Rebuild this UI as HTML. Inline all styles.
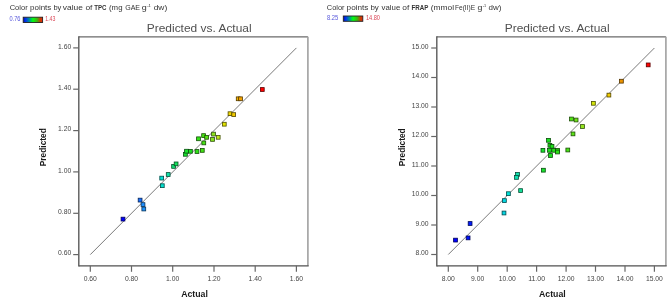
<!DOCTYPE html>
<html><head><meta charset="utf-8"><title>Predicted vs. Actual</title>
<style>
html,body{margin:0;padding:0;background:#fff;width:668px;height:301px;overflow:hidden}
svg{display:block;will-change:transform}
text{font-family:"Liberation Sans", sans-serif}
.hd{font-size:7.4px;fill:#333}
.cl{font-size:6.6px}
.ti{font-size:11.5px;fill:#505050}
.tk{font-size:7.6px;fill:#444}
.ax{font-size:8.2px;font-weight:bold;fill:#1a1a1a}
</style></head>
<body>
<svg width="668" height="301" viewBox="0 0 668 301">
<defs>
<linearGradient id="cb" x1="0" x2="1" y1="0" y2="0">
<stop offset="0" stop-color="#0010b0"/>
<stop offset="0.12" stop-color="#0030f0"/>
<stop offset="0.3" stop-color="#008c9c"/>
<stop offset="0.5" stop-color="#00ff10"/>
<stop offset="0.72" stop-color="#40b010"/>
<stop offset="0.9" stop-color="#d03800"/>
<stop offset="1" stop-color="#f02010"/>
</linearGradient>
</defs>
<text x="9.7" y="9.7" class="hd" textLength="18.0" lengthAdjust="spacingAndGlyphs">Color</text>
<text x="30.1" y="9.7" class="hd" textLength="21.2" lengthAdjust="spacingAndGlyphs">points</text>
<text x="53.4" y="9.7" class="hd" textLength="7.9" lengthAdjust="spacingAndGlyphs">by</text>
<text x="62.8" y="9.7" class="hd" textLength="20.1" lengthAdjust="spacingAndGlyphs">value</text>
<text x="85.4" y="9.7" class="hd" textLength="7.0" lengthAdjust="spacingAndGlyphs">of</text>
<text x="94.2" y="9.7" class="hd" font-weight="bold" textLength="12.2" lengthAdjust="spacingAndGlyphs">TPC</text>
<text x="109.0" y="9.7" class="hd" textLength="13.5" lengthAdjust="spacingAndGlyphs">(mg</text>
<text x="125.2" y="9.7" class="hd" textLength="14.8" lengthAdjust="spacingAndGlyphs">GAE</text>
<text x="141.8" y="9.7" class="hd" textLength="5.0" lengthAdjust="spacingAndGlyphs">g</text>
<text x="147.2" y="6.9" class="hd" style="font-size:3.8px" textLength="3.7" lengthAdjust="spacingAndGlyphs">-1</text>
<text x="153.7" y="9.7" class="hd" textLength="13.5" lengthAdjust="spacingAndGlyphs">dw)</text>
<text x="326.8" y="9.6" class="hd" textLength="17.8" lengthAdjust="spacingAndGlyphs">Color</text>
<text x="346.6" y="9.6" class="hd" textLength="21.8" lengthAdjust="spacingAndGlyphs">points</text>
<text x="370.4" y="9.6" class="hd" textLength="8.4" lengthAdjust="spacingAndGlyphs">by</text>
<text x="381.6" y="9.6" class="hd" textLength="18.7" lengthAdjust="spacingAndGlyphs">value</text>
<text x="402.3" y="9.6" class="hd" textLength="7.0" lengthAdjust="spacingAndGlyphs">of</text>
<text x="411.6" y="9.6" class="hd" font-weight="bold" textLength="16.8" lengthAdjust="spacingAndGlyphs">FRAP</text>
<text x="430.8" y="9.6" class="hd" textLength="23.2" lengthAdjust="spacingAndGlyphs">(mmol</text>
<text x="455.0" y="9.6" class="hd" textLength="20.1" lengthAdjust="spacingAndGlyphs">Fe(II)E</text>
<text x="477.4" y="9.6" class="hd" textLength="4.9" lengthAdjust="spacingAndGlyphs">g</text>
<text x="482.8" y="6.8" class="hd" style="font-size:3.8px" textLength="3.4" lengthAdjust="spacingAndGlyphs">-1</text>
<text x="488.5" y="9.6" class="hd" textLength="12.9" lengthAdjust="spacingAndGlyphs">dw)</text>
<text x="9.5" y="20.9" class="cl" fill="#5858dc" textLength="11" lengthAdjust="spacingAndGlyphs">0.76</text>
<rect x="23.2" y="17.2" width="19.4" height="5.3" fill="url(#cb)" stroke="#222" stroke-width="0.9"/>
<text x="45.3" y="20.9" class="cl" fill="#dc4858" textLength="10.1" lengthAdjust="spacingAndGlyphs">1.43</text>
<text x="327" y="19.8" class="cl" fill="#5858dc" textLength="11.3" lengthAdjust="spacingAndGlyphs">8.25</text>
<rect x="343.3" y="16.0" width="19.5" height="5.3" fill="url(#cb)" stroke="#222" stroke-width="0.9"/>
<text x="365.9" y="19.8" class="cl" fill="#dc4858" textLength="14.1" lengthAdjust="spacingAndGlyphs">14.80</text>
<text x="146.8" y="31.8" class="ti" textLength="104.8" lengthAdjust="spacingAndGlyphs">Predicted vs. Actual</text>
<text x="504.7" y="31.8" class="ti" textLength="104.9" lengthAdjust="spacingAndGlyphs">Predicted vs. Actual</text>
<line x1="90.3" y1="254.6" x2="296.4" y2="47.9" stroke="#7a7a7a" stroke-width="1.0"/>
<line x1="78.8" y1="36.8" x2="307.9" y2="36.8" stroke="#6a6a6a" stroke-width="1.3"/>
<line x1="307.9" y1="36.8" x2="307.9" y2="265.8" stroke="#a0a0a0" stroke-width="1.6"/>
<line x1="78.8" y1="265.8" x2="308.7" y2="265.8" stroke="#505050" stroke-width="1.2"/>
<line x1="78.8" y1="36.199999999999996" x2="78.8" y2="266.5" stroke="#5a5a5a" stroke-width="1.4"/>
<line x1="73.2" y1="254.6" x2="78.8" y2="254.6" stroke="#666" stroke-width="1.2"/>
<text x="71.2" y="255.2" class="tk" text-anchor="end" textLength="13.2" lengthAdjust="spacingAndGlyphs">0.60</text>
<line x1="90.3" y1="265.8" x2="90.3" y2="271.8" stroke="#666" stroke-width="1.2"/>
<text x="90.3" y="280.6" class="tk" text-anchor="middle" textLength="13.2" lengthAdjust="spacingAndGlyphs">0.60</text>
<line x1="73.2" y1="213.3" x2="78.8" y2="213.3" stroke="#666" stroke-width="1.2"/>
<text x="71.2" y="213.9" class="tk" text-anchor="end" textLength="13.2" lengthAdjust="spacingAndGlyphs">0.80</text>
<line x1="131.5" y1="265.8" x2="131.5" y2="271.8" stroke="#666" stroke-width="1.2"/>
<text x="131.5" y="280.6" class="tk" text-anchor="middle" textLength="13.2" lengthAdjust="spacingAndGlyphs">0.80</text>
<line x1="73.2" y1="171.9" x2="78.8" y2="171.9" stroke="#666" stroke-width="1.2"/>
<text x="71.2" y="172.5" class="tk" text-anchor="end" textLength="13.2" lengthAdjust="spacingAndGlyphs">1.00</text>
<line x1="172.7" y1="265.8" x2="172.7" y2="271.8" stroke="#666" stroke-width="1.2"/>
<text x="172.7" y="280.6" class="tk" text-anchor="middle" textLength="13.2" lengthAdjust="spacingAndGlyphs">1.00</text>
<line x1="73.2" y1="130.6" x2="78.8" y2="130.6" stroke="#666" stroke-width="1.2"/>
<text x="71.2" y="131.2" class="tk" text-anchor="end" textLength="13.2" lengthAdjust="spacingAndGlyphs">1.20</text>
<line x1="214.0" y1="265.8" x2="214.0" y2="271.8" stroke="#666" stroke-width="1.2"/>
<text x="214.0" y="280.6" class="tk" text-anchor="middle" textLength="13.2" lengthAdjust="spacingAndGlyphs">1.20</text>
<line x1="73.2" y1="89.2" x2="78.8" y2="89.2" stroke="#666" stroke-width="1.2"/>
<text x="71.2" y="89.8" class="tk" text-anchor="end" textLength="13.2" lengthAdjust="spacingAndGlyphs">1.40</text>
<line x1="255.2" y1="265.8" x2="255.2" y2="271.8" stroke="#666" stroke-width="1.2"/>
<text x="255.2" y="280.6" class="tk" text-anchor="middle" textLength="13.2" lengthAdjust="spacingAndGlyphs">1.40</text>
<line x1="73.2" y1="47.9" x2="78.8" y2="47.9" stroke="#666" stroke-width="1.2"/>
<text x="71.2" y="48.5" class="tk" text-anchor="end" textLength="13.2" lengthAdjust="spacingAndGlyphs">1.60</text>
<line x1="296.4" y1="265.8" x2="296.4" y2="271.8" stroke="#666" stroke-width="1.2"/>
<text x="296.4" y="280.6" class="tk" text-anchor="middle" textLength="13.2" lengthAdjust="spacingAndGlyphs">1.60</text>
<rect x="121.1" y="217.2" width="3.8" height="3.8" fill="#0000ff" stroke="#000059" stroke-width="0.8"/>
<rect x="138.2" y="198.2" width="3.8" height="3.8" fill="#166dfe" stroke="#072658" stroke-width="0.8"/>
<rect x="141.1" y="202.7" width="3.8" height="3.8" fill="#1d8efe" stroke="#0a3158" stroke-width="0.8"/>
<rect x="141.9" y="207.1" width="3.8" height="3.8" fill="#1c92fd" stroke="#093358" stroke-width="0.8"/>
<rect x="159.8" y="176.2" width="3.8" height="3.8" fill="#03e1d4" stroke="#014e4a" stroke-width="0.8"/>
<rect x="160.4" y="183.8" width="3.8" height="3.8" fill="#04e0cf" stroke="#014e48" stroke-width="0.8"/>
<rect x="166.3" y="172.6" width="3.8" height="3.8" fill="#12dea5" stroke="#064d39" stroke-width="0.8"/>
<rect x="171.7" y="164.5" width="3.8" height="3.8" fill="#14df74" stroke="#074e28" stroke-width="0.8"/>
<rect x="174.2" y="162.0" width="3.8" height="3.8" fill="#14e05c" stroke="#074e20" stroke-width="0.8"/>
<rect x="183.5" y="152.4" width="3.8" height="3.8" fill="#19e130" stroke="#084e10" stroke-width="0.8"/>
<rect x="184.6" y="149.3" width="3.8" height="3.8" fill="#1ae12c" stroke="#094e0f" stroke-width="0.8"/>
<rect x="188.5" y="149.4" width="3.8" height="3.8" fill="#1de11f" stroke="#0a4e0a" stroke-width="0.8"/>
<rect x="195.1" y="149.6" width="3.8" height="3.8" fill="#2fe117" stroke="#104e08" stroke-width="0.8"/>
<rect x="200.4" y="148.5" width="3.8" height="3.8" fill="#42e115" stroke="#174e07" stroke-width="0.8"/>
<rect x="196.6" y="136.9" width="3.8" height="3.8" fill="#34e117" stroke="#124e08" stroke-width="0.8"/>
<rect x="201.7" y="133.7" width="3.8" height="3.8" fill="#47e115" stroke="#184e07" stroke-width="0.8"/>
<rect x="204.7" y="135.4" width="3.8" height="3.8" fill="#54e115" stroke="#1d4e07" stroke-width="0.8"/>
<rect x="201.9" y="141.0" width="3.8" height="3.8" fill="#48e115" stroke="#194e07" stroke-width="0.8"/>
<rect x="211.6" y="132.2" width="3.8" height="3.8" fill="#8ee41d" stroke="#314f0a" stroke-width="0.8"/>
<rect x="210.6" y="137.5" width="3.8" height="3.8" fill="#86e31c" stroke="#2e4f09" stroke-width="0.8"/>
<rect x="216.3" y="135.4" width="3.8" height="3.8" fill="#bfe819" stroke="#425108" stroke-width="0.8"/>
<rect x="222.4" y="122.3" width="3.8" height="3.8" fill="#e1e300" stroke="#4e4f00" stroke-width="0.8"/>
<rect x="228.1" y="111.8" width="3.8" height="3.8" fill="#eed600" stroke="#534a00" stroke-width="0.8"/>
<rect x="231.8" y="112.7" width="3.8" height="3.8" fill="#f1c900" stroke="#544600" stroke-width="0.8"/>
<rect x="236.3" y="96.9" width="3.8" height="3.8" fill="#f1b000" stroke="#543d00" stroke-width="0.8"/>
<rect x="238.6" y="96.9" width="3.8" height="3.8" fill="#f0a100" stroke="#543800" stroke-width="0.8"/>
<rect x="260.4" y="87.6" width="3.8" height="3.8" fill="#ff0000" stroke="#590000" stroke-width="0.8"/>
<text x="194.5" y="296.6" class="ax" text-anchor="middle" textLength="26.7" lengthAdjust="spacingAndGlyphs">Actual</text>
<text transform="translate(46.3,147.2) rotate(-90)" x="0" y="0" class="ax" text-anchor="middle" textLength="38" lengthAdjust="spacingAndGlyphs">Predicted</text>
<line x1="448.3" y1="254.5" x2="654.4" y2="48.0" stroke="#7a7a7a" stroke-width="1.0"/>
<line x1="436.8" y1="36.8" x2="665.9" y2="36.8" stroke="#6a6a6a" stroke-width="1.3"/>
<line x1="665.9" y1="36.8" x2="665.9" y2="265.8" stroke="#a0a0a0" stroke-width="1.6"/>
<line x1="436.8" y1="265.8" x2="666.6999999999999" y2="265.8" stroke="#505050" stroke-width="1.2"/>
<line x1="436.8" y1="36.199999999999996" x2="436.8" y2="266.5" stroke="#5a5a5a" stroke-width="1.4"/>
<line x1="431.2" y1="254.5" x2="436.8" y2="254.5" stroke="#666" stroke-width="1.2"/>
<text x="428.6" y="255.1" class="tk" text-anchor="end" textLength="13.2" lengthAdjust="spacingAndGlyphs">8.00</text>
<line x1="448.3" y1="265.8" x2="448.3" y2="271.8" stroke="#666" stroke-width="1.2"/>
<text x="448.3" y="280.6" class="tk" text-anchor="middle" textLength="13.2" lengthAdjust="spacingAndGlyphs">8.00</text>
<line x1="431.2" y1="225.0" x2="436.8" y2="225.0" stroke="#666" stroke-width="1.2"/>
<text x="428.6" y="225.6" class="tk" text-anchor="end" textLength="13.2" lengthAdjust="spacingAndGlyphs">9.00</text>
<line x1="477.7" y1="265.8" x2="477.7" y2="271.8" stroke="#666" stroke-width="1.2"/>
<text x="477.7" y="280.6" class="tk" text-anchor="middle" textLength="13.2" lengthAdjust="spacingAndGlyphs">9.00</text>
<line x1="431.2" y1="195.5" x2="436.8" y2="195.5" stroke="#666" stroke-width="1.2"/>
<text x="428.6" y="196.1" class="tk" text-anchor="end" textLength="16.9" lengthAdjust="spacingAndGlyphs">10.00</text>
<line x1="507.2" y1="265.8" x2="507.2" y2="271.8" stroke="#666" stroke-width="1.2"/>
<text x="507.2" y="280.6" class="tk" text-anchor="middle" textLength="16.9" lengthAdjust="spacingAndGlyphs">10.00</text>
<line x1="431.2" y1="166.0" x2="436.8" y2="166.0" stroke="#666" stroke-width="1.2"/>
<text x="428.6" y="166.6" class="tk" text-anchor="end" textLength="16.9" lengthAdjust="spacingAndGlyphs">11.00</text>
<line x1="536.6" y1="265.8" x2="536.6" y2="271.8" stroke="#666" stroke-width="1.2"/>
<text x="536.6" y="280.6" class="tk" text-anchor="middle" textLength="16.9" lengthAdjust="spacingAndGlyphs">11.00</text>
<line x1="431.2" y1="136.5" x2="436.8" y2="136.5" stroke="#666" stroke-width="1.2"/>
<text x="428.6" y="137.1" class="tk" text-anchor="end" textLength="16.9" lengthAdjust="spacingAndGlyphs">12.00</text>
<line x1="566.1" y1="265.8" x2="566.1" y2="271.8" stroke="#666" stroke-width="1.2"/>
<text x="566.1" y="280.6" class="tk" text-anchor="middle" textLength="16.9" lengthAdjust="spacingAndGlyphs">12.00</text>
<line x1="431.2" y1="107.0" x2="436.8" y2="107.0" stroke="#666" stroke-width="1.2"/>
<text x="428.6" y="107.6" class="tk" text-anchor="end" textLength="16.9" lengthAdjust="spacingAndGlyphs">13.00</text>
<line x1="595.5" y1="265.8" x2="595.5" y2="271.8" stroke="#666" stroke-width="1.2"/>
<text x="595.5" y="280.6" class="tk" text-anchor="middle" textLength="16.9" lengthAdjust="spacingAndGlyphs">13.00</text>
<line x1="431.2" y1="77.5" x2="436.8" y2="77.5" stroke="#666" stroke-width="1.2"/>
<text x="428.6" y="78.1" class="tk" text-anchor="end" textLength="16.9" lengthAdjust="spacingAndGlyphs">14.00</text>
<line x1="625.0" y1="265.8" x2="625.0" y2="271.8" stroke="#666" stroke-width="1.2"/>
<text x="625.0" y="280.6" class="tk" text-anchor="middle" textLength="16.9" lengthAdjust="spacingAndGlyphs">14.00</text>
<line x1="431.2" y1="48.0" x2="436.8" y2="48.0" stroke="#666" stroke-width="1.2"/>
<text x="428.6" y="48.6" class="tk" text-anchor="end" textLength="16.9" lengthAdjust="spacingAndGlyphs">15.00</text>
<line x1="654.4" y1="265.8" x2="654.4" y2="271.8" stroke="#666" stroke-width="1.2"/>
<text x="654.4" y="280.6" class="tk" text-anchor="middle" textLength="16.9" lengthAdjust="spacingAndGlyphs">15.00</text>
<rect x="453.6" y="238.2" width="3.8" height="3.8" fill="#0000ff" stroke="#000059" stroke-width="0.8"/>
<rect x="466.2" y="236.0" width="3.8" height="3.8" fill="#0012fa" stroke="#000657" stroke-width="0.8"/>
<rect x="468.2" y="221.6" width="3.8" height="3.8" fill="#021cfa" stroke="#000957" stroke-width="0.8"/>
<rect x="502.1" y="211.1" width="3.8" height="3.8" fill="#04d4e1" stroke="#014a4e" stroke-width="0.8"/>
<rect x="502.5" y="198.7" width="3.8" height="3.8" fill="#04d6e1" stroke="#014a4e" stroke-width="0.8"/>
<rect x="506.5" y="191.8" width="3.8" height="3.8" fill="#01e1d9" stroke="#004e4b" stroke-width="0.8"/>
<rect x="518.7" y="188.7" width="3.8" height="3.8" fill="#14de97" stroke="#074d34" stroke-width="0.8"/>
<rect x="515.6" y="172.5" width="3.8" height="3.8" fill="#11dea9" stroke="#054d3b" stroke-width="0.8"/>
<rect x="514.6" y="175.5" width="3.8" height="3.8" fill="#0fdfaf" stroke="#054e3d" stroke-width="0.8"/>
<rect x="541.5" y="168.3" width="3.8" height="3.8" fill="#19e12d" stroke="#084e0f" stroke-width="0.8"/>
<rect x="541.0" y="148.4" width="3.8" height="3.8" fill="#19e12e" stroke="#084e10" stroke-width="0.8"/>
<rect x="546.6" y="138.4" width="3.8" height="3.8" fill="#1ce121" stroke="#094e0b" stroke-width="0.8"/>
<rect x="548.0" y="143.4" width="3.8" height="3.8" fill="#1de11e" stroke="#0a4e0a" stroke-width="0.8"/>
<rect x="550.1" y="144.4" width="3.8" height="3.8" fill="#1ee119" stroke="#0a4e08" stroke-width="0.8"/>
<rect x="547.5" y="148.4" width="3.8" height="3.8" fill="#1de11f" stroke="#0a4e0a" stroke-width="0.8"/>
<rect x="551.8" y="148.4" width="3.8" height="3.8" fill="#22e119" stroke="#0b4e08" stroke-width="0.8"/>
<rect x="555.6" y="148.5" width="3.8" height="3.8" fill="#2ce118" stroke="#0f4e08" stroke-width="0.8"/>
<rect x="555.6" y="150.1" width="3.8" height="3.8" fill="#2ce118" stroke="#0f4e08" stroke-width="0.8"/>
<rect x="548.6" y="153.6" width="3.8" height="3.8" fill="#1de11d" stroke="#0a4e0a" stroke-width="0.8"/>
<rect x="565.9" y="148.1" width="3.8" height="3.8" fill="#47e115" stroke="#184e07" stroke-width="0.8"/>
<rect x="569.6" y="117.1" width="3.8" height="3.8" fill="#51e114" stroke="#1c4e07" stroke-width="0.8"/>
<rect x="574.2" y="118.1" width="3.8" height="3.8" fill="#6de218" stroke="#264f08" stroke-width="0.8"/>
<rect x="580.6" y="124.6" width="3.8" height="3.8" fill="#93e41e" stroke="#334f0a" stroke-width="0.8"/>
<rect x="571.1" y="132.0" width="3.8" height="3.8" fill="#5ae115" stroke="#1f4e07" stroke-width="0.8"/>
<rect x="591.5" y="101.4" width="3.8" height="3.8" fill="#d5e60a" stroke="#4a5003" stroke-width="0.8"/>
<rect x="607.0" y="93.2" width="3.8" height="3.8" fill="#f1cc00" stroke="#544700" stroke-width="0.8"/>
<rect x="619.5" y="79.3" width="3.8" height="3.8" fill="#eb9300" stroke="#523300" stroke-width="0.8"/>
<rect x="646.3" y="63.0" width="3.8" height="3.8" fill="#fe0200" stroke="#580000" stroke-width="0.8"/>
<text x="552.4" y="296.6" class="ax" text-anchor="middle" textLength="26.7" lengthAdjust="spacingAndGlyphs">Actual</text>
<text transform="translate(404.5,147.3) rotate(-90)" x="0" y="0" class="ax" text-anchor="middle" textLength="38" lengthAdjust="spacingAndGlyphs">Predicted</text>
</svg>
</body></html>
